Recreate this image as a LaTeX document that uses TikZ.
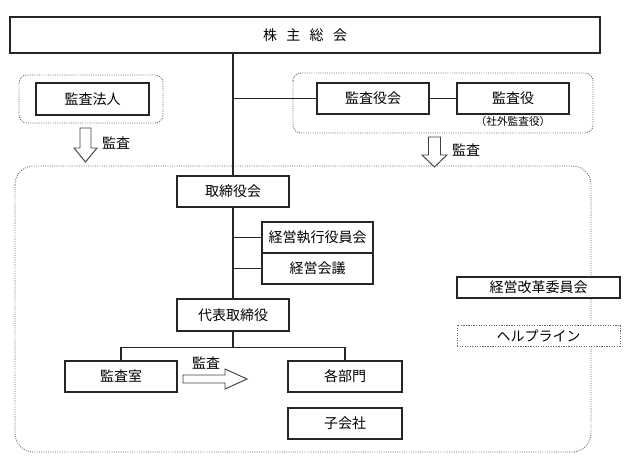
\documentclass[tikz,border=0pt]{standalone}
\usepackage{fontspec}
\setmainfont{Noto Sans CJK JP}
\usepackage{tikz}
\usetikzlibrary{calc}
\tikzset{
	box/.style={draw=black!85,line width=0.9pt,fill=white,inner sep=0pt,minimum width=84pt,minimum height=23.25pt,font=\fontsize{10.5}{12}\selectfont},
	grp/.style={draw=black!60,densely dotted,line width=0.7pt,rounded corners=6pt},
	line/.style={draw=black!85,line width=0.9pt},
	hollow/.style={draw=black!75,line width=0.7pt,fill=white},
	lbl/.style={font=\fontsize{10.5}{12}\selectfont,inner sep=0pt},
}
\begin{document}
\begin{tikzpicture}[x=0.75pt,y=-0.75pt]
		% picture size in px
		\useasboundingbox (0,0) rectangle (627,475);
		
		% dotted groups
		\draw[grp] (19,75) rectangle (163,123);
		\draw[grp] (293,73) rectangle (593,133);
		\draw[grp,rounded corners=14pt] (15,166) rectangle (591,452);
		
		% top
		\node[box,minimum width=442.5pt,minimum height=27pt] (gm) at (305,35) {株\hspace{7pt}主\hspace{7pt}総\hspace{7pt}会};
		
		% auditors
		\node[box,minimum width=84.75pt,minimum height=24pt] (firm) at (92.5,99) {監査法人};
		\node[box] (kab) at (373,98.5) {監査役会};
		\node[box] (kan) at (513,98.5) {監査役};
		\node[lbl,font=\fontsize{8}{9}\selectfont] (outside) at (513,121) {（社外監査役）};
		
		% board and management
		\node[box] (board) at (233,191.5) {取締役会};
		\node[box,minimum width=83.25pt] (exec) at (317.5,237.5) {経営執行役員会};
		\node[box,minimum width=83.25pt] (mtg) at (317.5,268.5) {経営会議};
		\node[box,minimum height=24pt] (rep) at (233,315) {代表取締役};
		\node[box] (office) at (121,376.5) {監査室};
		\node[box,minimum width=85.5pt] (dept) at (345,376.5) {各部門};
		\node[box,minimum width=85.5pt] (subs) at (345,423.5) {子会社};
		
		% right side
		\node[box,minimum width=122.25pt,minimum height=15.75pt] (reform) at (538.5,287.5) {経営改革委員会};
		\node[box,draw=black!60,densely dotted,line width=0.7pt,minimum width=122.25pt,minimum height=15.75pt] (help) at (538.5,335.5) {ヘルプライン};
		
		% connectors
		\draw[line] (gm.south -| board.north) -- (board.north);
		\draw[line] (kab.west) -- (kab.west -| board.north);
		\draw[line] (kab.east) -- (kan.west);
		\draw[line] (board.south) -- (rep.north);
		\draw[line] (exec.west) -- (exec.west -| board.south);
		\draw[line] (mtg.west) -- (mtg.west -| board.south);
		\coordinate (split) at ($(rep.south)+(0,16)$);
		\draw[line] (rep.south) -- (split);
		\draw[line] (office.north) |- (split) -| (dept.north);
		
		% hollow arrows
		\draw[hollow] (80,128) -- (91,128) -- (91,148) -- (97,148) -- (85.5,162) -- (74,148) -- (80,148) -- cycle;
		\node[lbl] (aud1) at (116,143) {監査};
		\draw[hollow] (428.5,137) -- (440.5,137) -- (440.5,155) -- (447,155) -- (434.5,167) -- (422,155) -- (428.5,155) -- cycle;
		\node[lbl] (aud2) at (466,150) {監査};
		\draw[hollow] (183,375) -- (225,375) -- (225,369) -- (247,379) -- (225,389) -- (225,383) -- (183,383) -- cycle;
		\node[lbl] (aud3) at (206,363) {監査};
		
\end{tikzpicture}
\end{document}
